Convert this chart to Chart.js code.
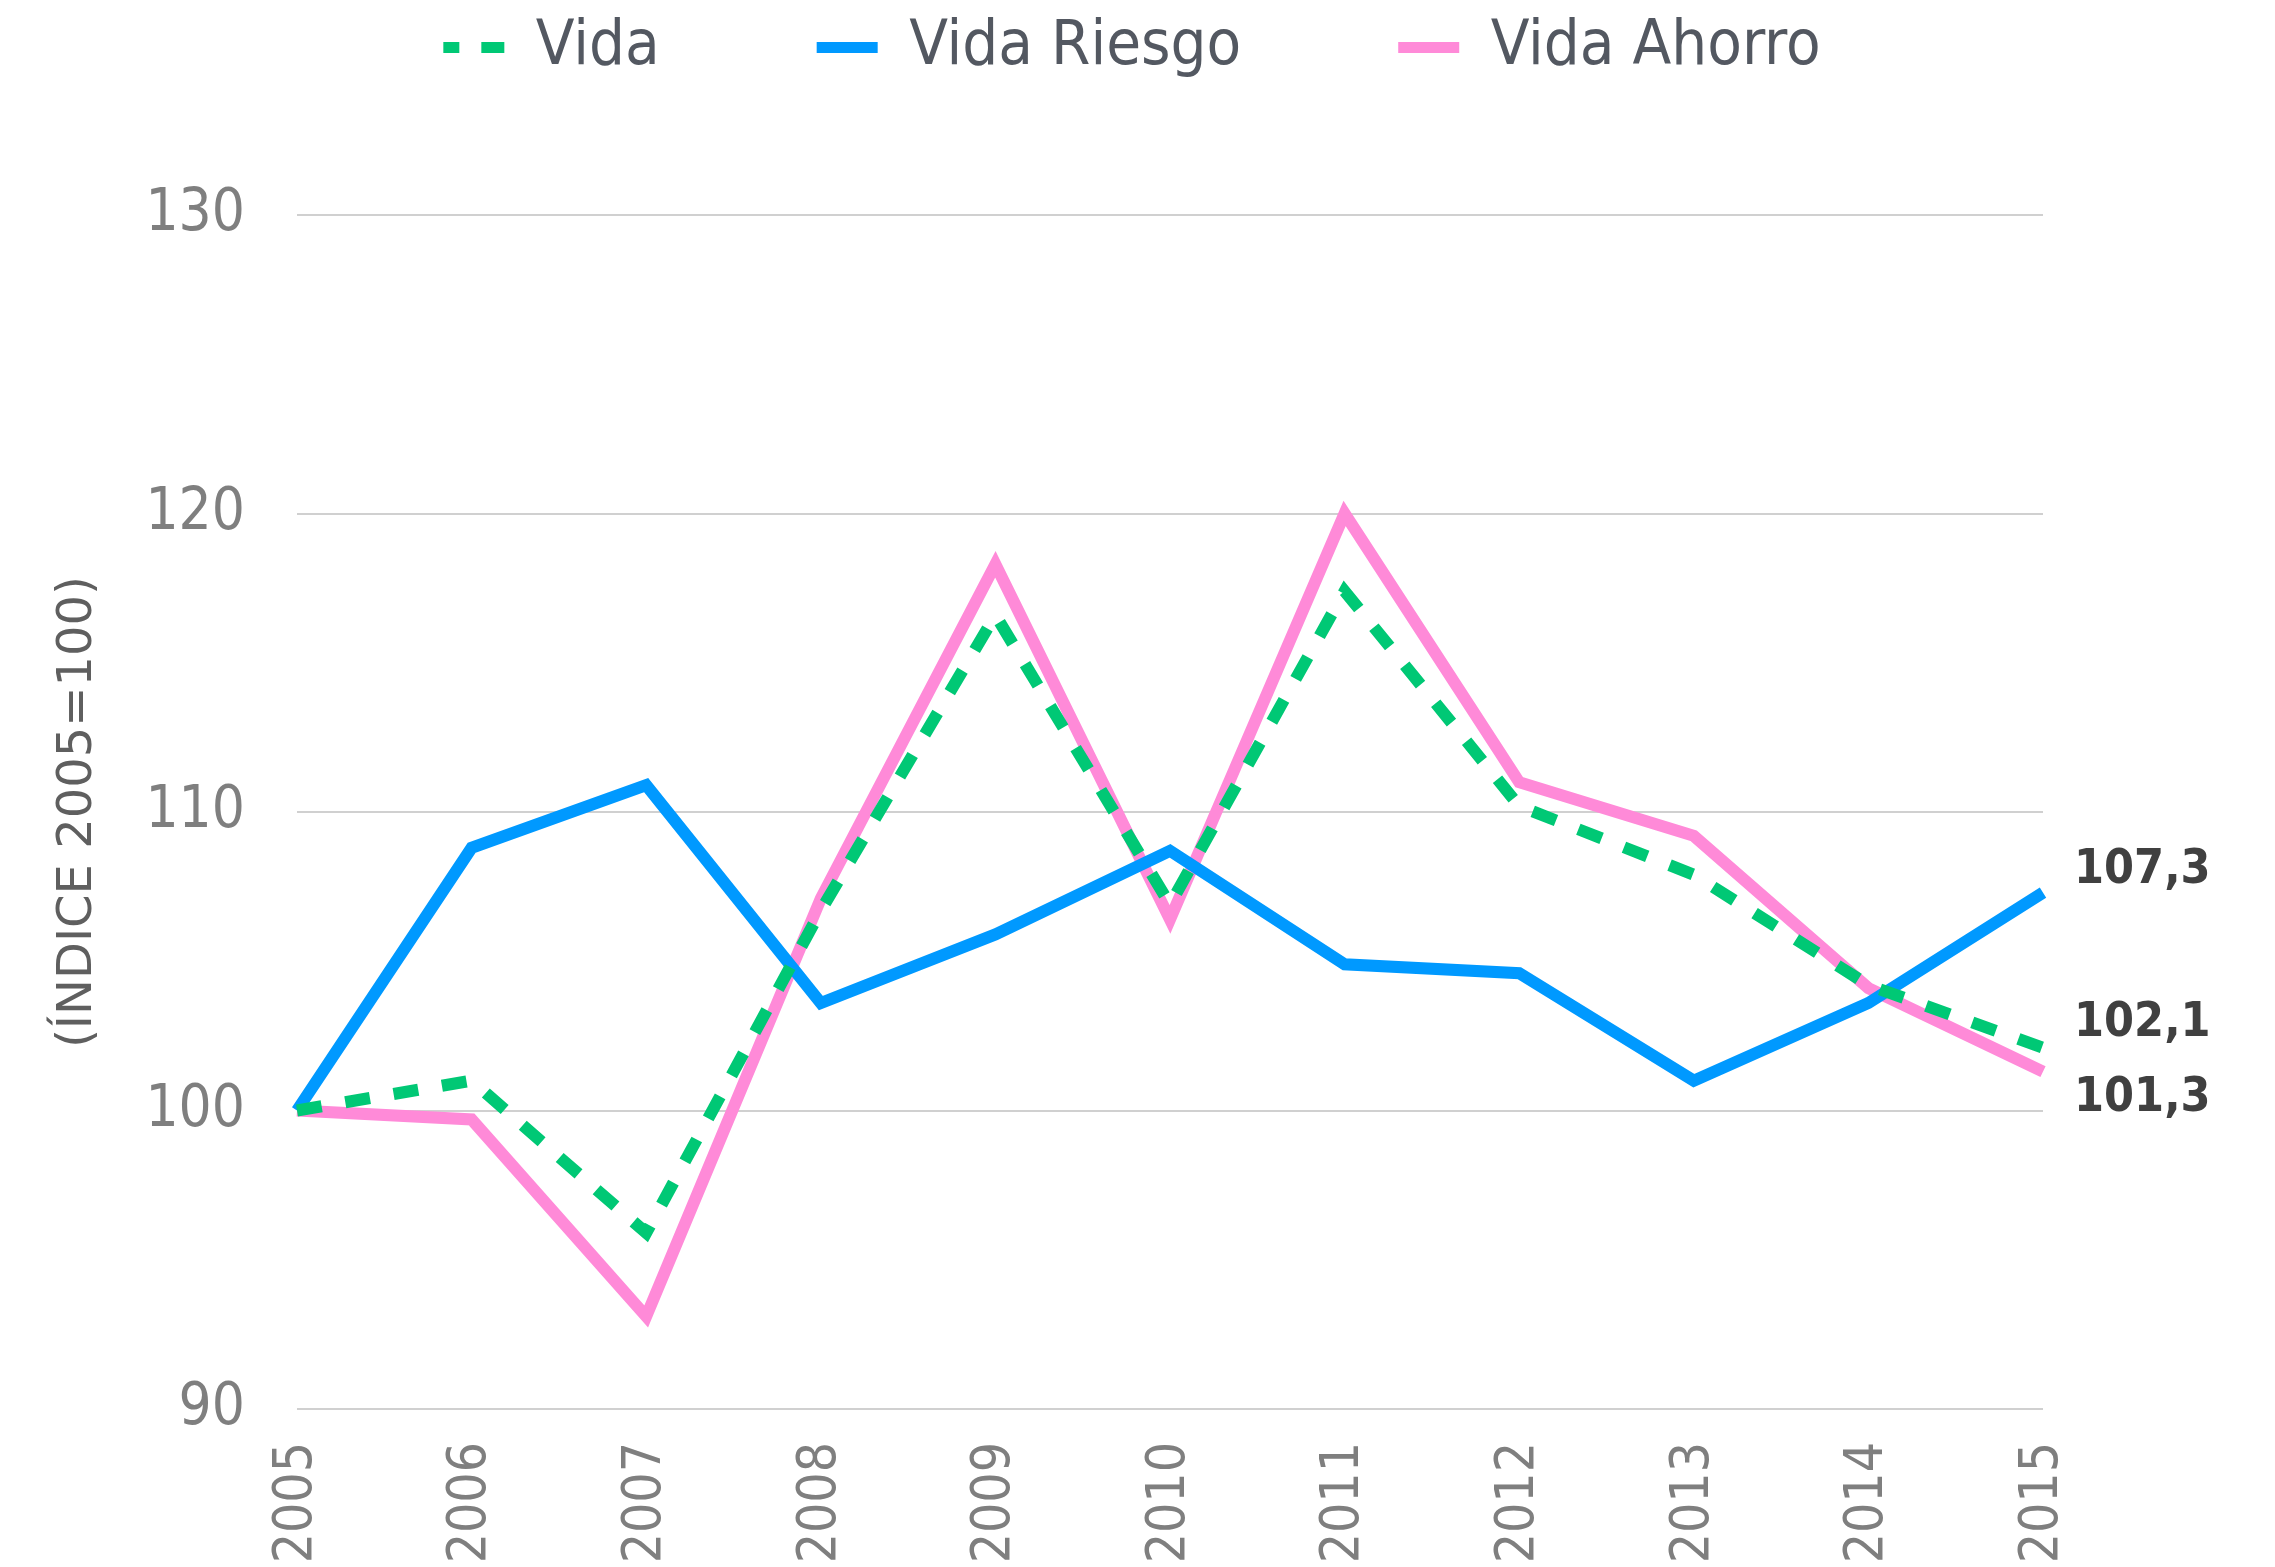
<!DOCTYPE html>
<html>
<head>
<meta charset="utf-8">
<script src="https://cdn.jsdelivr.net/npm/chart.js@4.4.1/dist/chart.umd.min.js"></script>
<style>
  html, body { margin: 0; padding: 0; background: #ffffff; }
  #wrap { width: 2275px; height: 1567px; position: relative; }
</style>
</head>
<body>
<div id="wrap"><canvas id="c" width="2275" height="1567"></canvas></div>
<script>
// ---- data ----
const years = ['2005','2006','2007','2008','2009','2010','2011','2012','2013','2014','2015'];
const seriesNames = ['Vida', 'Vida Riesgo', 'Vida Ahorro'];
const vida = [100, 101.0, 95.9, 106.7, 116.6, 106.9, 117.4, 110.2, 107.9, 104.2, 102.1];
const vidaRiesgo = [100, 108.8, 110.9, 103.6, 105.9, 108.7, 104.9, 104.6, 101.0, 103.6, 107.3];
const vidaAhorro = [100, 99.7, 93.1, 107.1, 118.3, 106.4, 120.0, 111.0, 109.2, 104.1, 101.3];
const yTicks = [90, 100, 110, 120, 130];
const axisTitle = '(ÍNDICE 2005=100)';

// ---- styles ----
const colors = ['#00C875', '#0099FF', '#FF8AD8'];
const endLabelShift = [-24, -22, 27]; // vertical nudges for end labels (px)

const endLabels = {
  id: 'endLabels',
  afterDatasetsDraw(chart) {
    const ctx = chart.ctx;
    const ys = chart.scales.y;
    const area = chart.chartArea;
    ctx.save();
    ctx.font = 'bold 48px "DejaVu Sans Condensed", "DejaVu Sans", sans-serif';
    ctx.fillStyle = '#404040';
    ctx.textAlign = 'left';
    ctx.textBaseline = 'middle';
    chart.data.datasets.forEach((ds, i) => {
      const v = ds.data[ds.data.length - 1];
      const y = ys.getPixelForValue(v) + endLabelShift[i];
      ctx.fillText(v.toFixed(1).replace('.', ','), area.right + 31, y);
    });
    ctx.restore();
  }
};

const condensed = '"DejaVu Sans Condensed", "DejaVu Sans", sans-serif';

new Chart(document.getElementById('c'), {
  type: 'line',
  data: {
    labels: years,
    datasets: [
      { label: seriesNames[0], data: vida, borderColor: colors[0], backgroundColor: colors[0],
        borderWidth: 12, borderDash: [25, 24], borderCapStyle: 'butt', borderJoinStyle: 'miter' },
      { label: seriesNames[1], data: vidaRiesgo, borderColor: colors[1], backgroundColor: colors[1],
        borderWidth: 12, borderCapStyle: 'butt', borderJoinStyle: 'miter' },
      { label: seriesNames[2], data: vidaAhorro, borderColor: colors[2], backgroundColor: colors[2],
        borderWidth: 12, borderCapStyle: 'butt', borderJoinStyle: 'miter' }
    ]
  },
  options: {
    responsive: false,
    animation: false,
    devicePixelRatio: 1,
    elements: { point: { radius: 0, hoverRadius: 0 }, line: { tension: 0 } },
    layout: { padding: { top: -141, left: 0, right: 11, bottom: 0 } },
    plugins: {
      tooltip: { enabled: false },
      legend: {
        position: 'top',
        labels: {
          usePointStyle: true,
          pointStyle: 'line',
          pointStyleWidth: 61,
          padding: 157,
          color: '#535861',
          font: { family: condensed, size: 63 },
          generateLabels(chart) {
            const items = Chart.defaults.plugins.legend.labels.generateLabels(chart);
            items.forEach((it, i) => {
              const ds = chart.data.datasets[i];
              it.lineDash = ds.borderDash ? [23, 22] : [];
              it.lineDashOffset = ds.borderDash ? 7 : 0;
              it.lineWidth = 11;
              it.strokeStyle = ds.borderColor;
              it.fillStyle = ds.borderColor;
              it.lineCap = 'butt';
            });
            return items;
          }
        }
      }
    },
    scales: {
      x: {
        type: 'category',
        position: 'bottom',
        grid: { display: false, drawTicks: false },
        border: { display: false },
        ticks: { color: '#7f7f7f', font: { family: condensed, size: 53 }, minRotation: 90, maxRotation: 90, autoSkip: false, padding: 33 },
        afterFit(s) { s.height = 158; }
      },
      top: {
        type: 'category',
        position: 'top',
        display: true,
        grid: { display: false, drawTicks: false },
        border: { display: false },
        ticks: { display: false },
        afterFit(s) { s.height = 126; }
      },
      y: {
        type: 'linear',
        position: 'left',
        min: 90,
        max: 130,
        afterBuildTicks(s) { s.ticks = yTicks.map(v => ({ value: v })); },
        grid: { color: '#d0d0d0', lineWidth: 2, drawTicks: false },
        border: { display: false },
        ticks: { color: '#7f7f7f', font: { family: condensed, size: 58 }, padding: 52 },
        title: {
          display: true,
          text: axisTitle,
          color: '#5f5f5f',
          font: { family: '"DejaVu Sans", sans-serif', size: 48, lineHeight: 1.2 },
          padding: { top: 50, bottom: 0 }
        },
        afterFit(s) { s.width = 297; }
      },
      right: {
        type: 'linear',
        position: 'right',
        display: true,
        grid: { display: false, drawTicks: false },
        border: { display: false },
        ticks: { display: false },
        afterFit(s) { s.width = 221; }
      }
    }
  },
  plugins: [endLabels]
});
</script>
</body>
</html>
